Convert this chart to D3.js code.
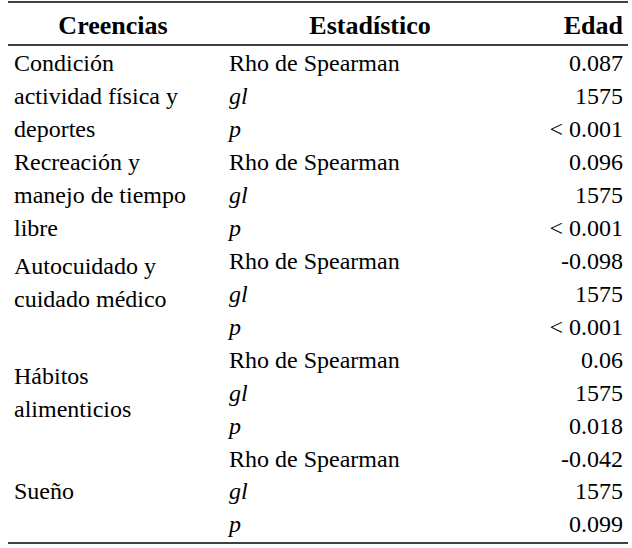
<!DOCTYPE html>
<html>
<head>
<meta charset="utf-8">
<script src="https://cdn.jsdelivr.net/npm/d3@7"></script>
<style>
  body { margin: 0; background: #fff; }
</style>
</head>
<body>
<svg id="chart" width="632" height="548"></svg>
<script>
var headers = ["Creencias", "Estadístico", "Edad"];
var groups = [
    ["Condición", "actividad física y", "deportes"],
    ["Recreación y", "manejo de tiempo", "libre"],
    ["Autocuidado y", "cuidado médico"],
    ["Hábitos", "alimenticios"],
    ["Sueño"]
];
var stats = ["Rho de Spearman", "gl", "p"];
var rho = ["0.087", "0.096", "-0.098", "0.06", "-0.042"];
var gl = ["1575", "1575", "1575", "1575", "1575"];
var pval = ["< 0.001", "< 0.001", "< 0.001", "0.018", "0.099"];

var FONT = "'Liberation Serif', 'Times New Roman', Times, serif";
var svg = d3.select("#chart");
var y = d3.scaleLinear().domain([0, 14]).range([63, 524]);

function txt(x, yy, s) {
    return svg.append("text").attr("x", x).attr("y", yy)
        .attr("font-family", FONT).attr("font-size", 24).attr("fill", "#000").text(s);
}

[2, 45, 543].forEach(function(v) {
    svg.append("line").attr("x1", 8).attr("x2", 628).attr("y1", v).attr("y2", v)
        .attr("stroke", "#000").attr("stroke-width", 1.5);
});

var hx = [113, 370, 623], ha = ["middle", "middle", "end"];
headers.forEach(function(h, i) {
    txt(hx[i], 34, h).attr("text-anchor", ha[i]).attr("font-weight", "bold").attr("font-size", 26);
});

groups.forEach(function(lines, g) {
    var center = g * 3 + 1;
    var start = lines.length === 3 ? g * 3 : center - (lines.length - 1) / 2;
    if (g === 2) start = g * 3 + 0.15;
    lines.forEach(function(l, k) {
        txt(14, y(start + k), l).attr("dy", "0.35em");
    });
    var vals = [rho[g], gl[g], pval[g]];
    stats.forEach(function(s, k) {
        var r = g * 3 + k;
        txt(229, y(r), s).attr("dy", "0.35em").attr("font-style", k > 0 ? "italic" : "normal");
        txt(623, y(r), vals[k]).attr("dy", "0.35em").attr("text-anchor", "end");
    });
});
</script>
</body>
</html>
